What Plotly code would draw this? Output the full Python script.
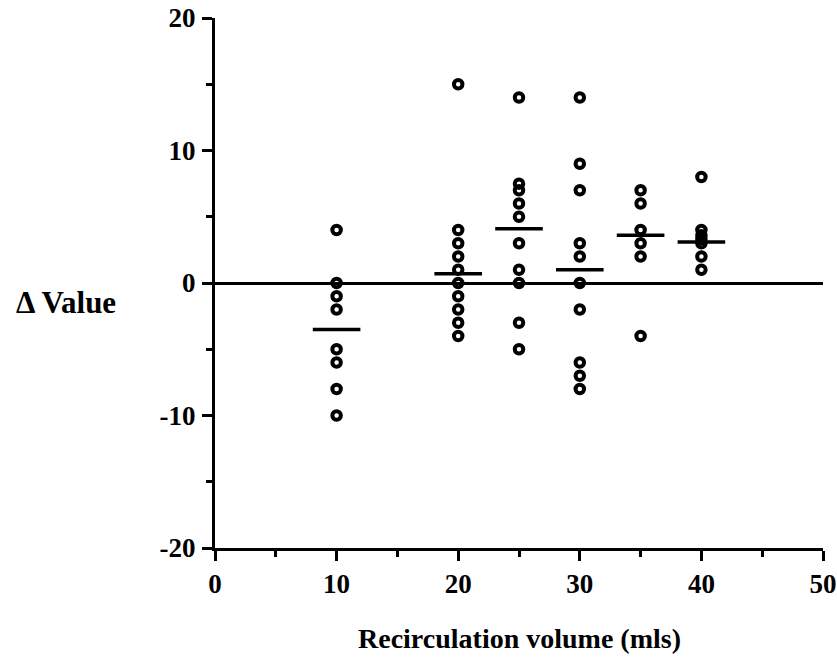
import plotly.graph_objects as go

# Recirculation volume groups and the Δ values
vol_10 = [4, 0, -1, -2, -5, -6, -8, -10]
vol_20 = [15, 4, 3, 2, 1, 0, -1, -2, -3, -4]
vol_25 = [14, 7.5, 7, 6, 5, 3, 1, 0, -3, -5]
vol_30 = [14, 9, 7, 3, 2, 0, -2, -6, -7, -8]
vol_35 = [7, 6, 4, 3, 2, -4]
vol_40 = [8, 4, 3.6, 3.3, 3, 2, 1]

volumes = [10, 20, 25, 30, 35, 40]
groups = [vol_10, vol_20, vol_25, vol_30, vol_35, vol_40]
group_centres = [-3.5, 0.7, 4.1, 1.0, 3.6, 3.1]

x_ticks = [0, 10, 20, 30, 40, 50]
x_tick_labels = ["0", "10", "20", "30", "40", "50"]
y_ticks = [-20, -10, 0, 10, 20]
y_tick_labels = ["-20", "-10", "0", "10", "20"]

xs, ys = [], []
for v, g in zip(volumes, groups):
    xs += [v] * len(g)
    ys += g

FONT = "Liberation Serif"

fig = go.Figure()
fig.add_trace(go.Scatter(
    x=volumes, y=group_centres, mode="markers",
    marker=dict(symbol="line-ew", size=34, line=dict(color="black", width=3.5)),
    showlegend=False, hoverinfo="skip"))
fig.add_trace(go.Scatter(
    x=xs, y=ys, mode="markers",
    marker=dict(symbol="circle-open", size=8.5, color="black",
                line=dict(color="black", width=4)),
    showlegend=False))

axis_common = dict(
    showgrid=False, showline=True, linecolor="black", linewidth=3,
    ticks="outside", ticklen=10, tickwidth=3, tickcolor="black",
    tickfont=dict(family=FONT, size=27, color="black", weight="bold"),
    minor=dict(ticks="outside", ticklen=6, tickwidth=3, tickcolor="black", dtick=5),
    automargin=False,
)

fig.update_layout(
    width=837, height=662,
    margin=dict(l=215, r=14, t=18, b=114),
    paper_bgcolor="white", plot_bgcolor="white",
    xaxis=dict(range=[0, 50], tickvals=x_ticks, ticktext=x_tick_labels,
               zeroline=False, ticklabelstandoff=0, **axis_common),
    yaxis=dict(range=[-20, 20], tickvals=y_ticks, ticktext=y_tick_labels,
               zeroline=True, zerolinecolor="black", zerolinewidth=3,
               ticklabelstandoff=1, **axis_common),
    annotations=[
        dict(text="Recirculation volume (mls)", xref="paper", yref="paper",
             x=0.5, y=0, yshift=-90, xanchor="center", yanchor="middle",
             showarrow=False, font=dict(family=FONT, size=28, color="black", weight="bold")),
        dict(text="Δ Value", xref="paper", yref="y", x=0, y=0, xshift=-149,
             yshift=-19, xanchor="center", yanchor="middle", showarrow=False,
             font=dict(family=FONT, size=31, color="black", weight="bold")),
    ],
)

fig.write_html("out.html",
               config={"displayModeBar": False},
               post_script="document.body.style.margin='0';document.body.style.overflow='hidden';")
